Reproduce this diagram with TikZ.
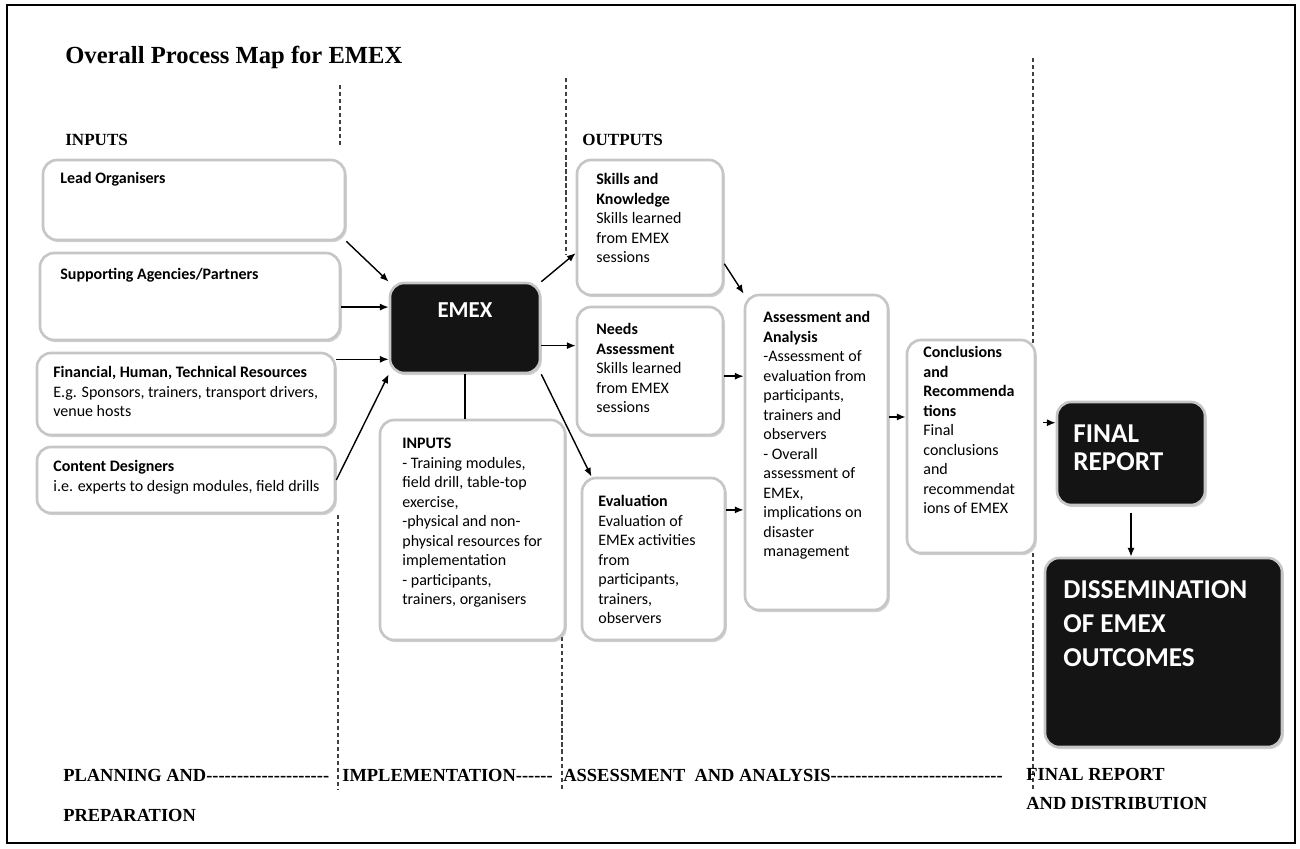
\documentclass[tikz,border=0pt]{standalone}
\usepackage{fontspec}
\setmainfont{Liberation Serif}
\newfontfamily\calfont{Carlito}
\usetikzlibrary{arrows.meta,fit,shadows}

\tikzset{
  procbox/.style={draw=gray!45, line width=1.5pt, fill=white, rounded corners=8pt,
    inner sep=0pt, drop shadow={shadow xshift=1pt, shadow yshift=-1.2pt, opacity=0.35}},
  darkbox/.style={procbox, fill=black!92},
  boxtxt/.style={anchor=north west, inner sep=0pt, align=left,
    font=\calfont\fontsize{9.1}{11.1}\selectfont},
  bigtxt/.style={anchor=west, inner sep=0pt, align=left, text=white,
    font=\calfont\bfseries\fontsize{15.5}{15.9}\selectfont},
  headtxt/.style={anchor=west, inner sep=0pt, font=\bfseries\fontsize{9.7}{11}\selectfont},
  phasetxt/.style={anchor=west, inner sep=0pt, font=\bfseries\fontsize{10.5}{12}\selectfont},
  phaseline/.style={line width=0.6pt, black!75, dash pattern=on 2.4pt off 1.6pt},
  flow/.style={-{Latex[length=5pt,width=4pt]}, line width=0.8pt},
}

\begin{document}
\begin{tikzpicture}[x=0.02cm,y=-0.02cm]
  \useasboundingbox (0,0) rectangle (1300,848);
  \draw[line width=0.8pt] (7,5) rectangle (1295,843);

  % title and column heads
  \node[anchor=west, inner sep=0pt, font=\bfseries\fontsize{14}{16}\selectfont] (title) at (65,57) {Overall Process Map for EMEX};
  \node[headtxt] (inhead) at (65,140) {INPUTS};
  \node[headtxt] (outhead) at (582,140) {OUTPUTS};

  % phase separators
  \draw[phaseline] (340,85) -- (340,148);
  \draw[phaseline] (338,515) -- (338,790);
  \draw[phaseline] (566,78) -- (566,255);
  \draw[phaseline] (562,630) -- (562,790);
  \draw[phaseline] (1033,58) -- (1033,343);
  \draw[phaseline] (1033,553) -- (1033,790);

  % inputs
  \node[procbox, fit={(43,160) (345,240)}] (lead) {};
  \node[boxtxt] (leadtxt) at (60,172) {\textbf{Lead Organisers}};
  \node[procbox, fit={(40,253) (340,340)}] (supp) {};
  \node[boxtxt] (supptxt) at (60,268) {\textbf{Supporting Agencies/Partners}};
  \node[procbox, fit={(37,353) (335,435)}] (fin) {};
  \node[boxtxt] (fintxt) at (53,366) {\textbf{Financial, Human, Technical Resources}\\E.g. Sponsors, trainers, transport drivers,\\venue hosts};
  \node[procbox, fit={(37,447) (335,513)}] (cont) {};
  \node[boxtxt] (conttxt) at (53,460) {\textbf{Content Designers}\\i.e. experts to design modules, field drills};

  % implementation
  \node[darkbox, fit={(390,283) (540,373)}] (emex) {};
  \node[inner sep=0pt, text=white, font=\calfont\bfseries\fontsize{13}{15}\selectfont] (emextxt) at (465,310) {EMEX};
  \node[procbox, fit={(380,420) (565,640)}] (inp) {};
  \node[boxtxt] (inptxt) at (402,438) {\textbf{INPUTS}\\- Training modules,\\field drill, table-top\\exercise,\\-physical and non-\\physical resources for\\implementation\\- participants,\\trainers, organisers};

  % outputs
  \node[procbox, fit={(577,160) (723,295)}] (skills) {};
  \node[boxtxt] (skillstxt) at (596,173) {\textbf{Skills and}\\\textbf{Knowledge}\\Skills learned\\from EMEX\\sessions};
  \node[procbox, fit={(577,307) (723,435)}] (needs) {};
  \node[boxtxt] (needstxt) at (596,323) {\textbf{Needs}\\\textbf{Assessment}\\Skills learned\\from EMEX\\sessions};
  \node[procbox, fit={(582,478) (725,640)}] (eval) {};
  \node[boxtxt] (evaltxt) at (598,495) {\textbf{Evaluation}\\Evaluation of\\EMEx activities\\from\\participants,\\trainers,\\observers};

  % assessment and analysis
  \node[procbox, fit={(745,295) (888,610)}] (assess) {};
  \node[boxtxt] (assesstxt) at (763,311) {\textbf{Assessment and}\\\textbf{Analysis}\\-Assessment of\\evaluation from\\participants,\\trainers and\\observers\\- Overall\\assessment of\\EMEx,\\implications on\\disaster\\management};
  \node[procbox, fit={(907,340) (1035,553)}] (concl) {};
  \node[boxtxt] (concltxt) at (923,346) {\textbf{Conclusions}\\\textbf{and}\\\textbf{Recommenda}\\\textbf{tions}\\Final\\conclusions\\and\\recommendat\\ions of EMEX};

  % final report and distribution
  \node[darkbox, fit={(1057,402) (1205,505)}] (final) {};
  \node[bigtxt] (finaltxt) at (1073,448) {FINAL\\REPORT};
  \node[darkbox, fit={(1045,558) (1282,747)}] (dissem) {};
  \node[bigtxt, font=\calfont\bfseries\fontsize{15.5}{19.3}\selectfont] (dissemtxt) at (1063,624) {DISSEMINATION\\OF EMEX\\OUTCOMES};

  % phase names
  \node[phasetxt] (plan) at (63,775) {PLANNING AND\makebox[2.46cm]{\leaders\hbox{-}\hfill}};
  \node[phasetxt] (prep) at (63,815) {PREPARATION};
  \node[phasetxt] (impl) at (342,775) {IMPLEMENTATION\makebox[0.8cm]{\leaders\hbox{-}\hfill}};
  \node[phasetxt] (anal) at (563,775) {ASSESSMENT\ \ AND ANALYSIS\makebox[3.5cm]{\leaders\hbox{-}\hfill}};
  \node[phasetxt, align=left, font=\bfseries\fontsize{10.5}{16}\selectfont] (dist) at (1026,789) {FINAL REPORT\\AND DISTRIBUTION};

  % flows
  \draw[flow] (lead.south east) -- (emex.north west);
  \draw[flow] (supp.-4.4) -- (supp.-4.4 -| emex.west);
  \draw[flow] (fin.13) -- (fin.13 -| emex.west);
  \draw[flow] (cont.east) -- (emex.south west);
  \draw[line width=0.8pt] (emex.south) -- (emex.south |- inp.north);
  \draw[flow] (emex.north east) -- (skills.199);
  \draw[flow] (emex.-13.5) -- (emex.-13.5 -| needs.west);
  \draw[flow] (emex.south east) -- (eval.127);
  \draw[flow] (skills.-26) -- (assess.north west);
  \draw[flow] (needs.-4.7) -- (needs.-4.7 -| assess.west);
  \draw[flow] (eval.34) -- (eval.34 -| assess.west);
  \draw[flow] (assess.26) -- (assess.26 -| concl.west);
  \draw[flow, shorten <=4pt] (concl.20) -- (concl.20 -| final.west);
  \draw[flow, shorten <=4pt] (final.south) -- (final.south |- dissem.north);
\end{tikzpicture}
\end{document}
